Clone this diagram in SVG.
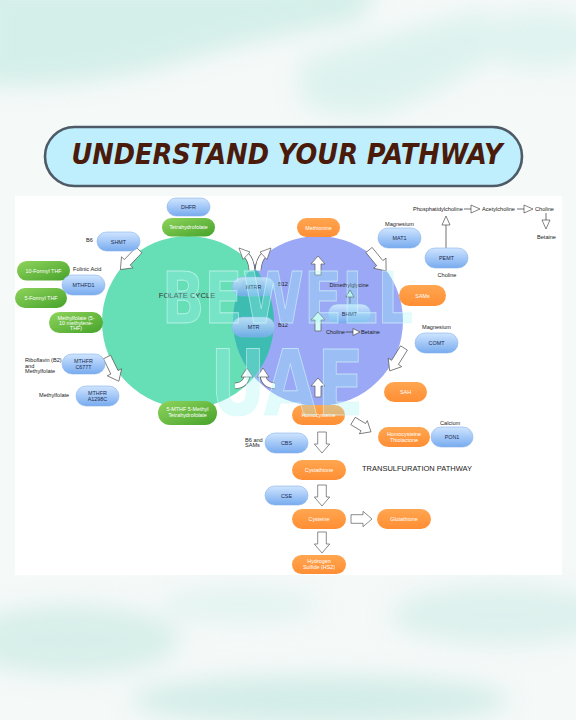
<svg xmlns="http://www.w3.org/2000/svg" xmlns:xlink="http://www.w3.org/1999/xlink" width="576" height="720" viewBox="0 0 576 720">
<defs>
<style>
.lbl{font-family:'Liberation Sans',Arial,sans-serif;font-size:5.6px;fill:#222}
.pt{font-family:'Liberation Sans',Arial,sans-serif;font-size:5.4px;text-anchor:middle}
.pw{fill:#ffffff}
.pb{fill:#1d2b4f}
.blue{fill:url(#gBlue);stroke:#86b1ea;stroke-width:0.6}
.green{fill:url(#gGreen)}
.orange{fill:url(#gOrange)}
.blk{fill:#ffffff;stroke:#5a5a5a;stroke-width:0.7;stroke-linejoin:miter}
.thin{stroke:#333;stroke-width:0.7;fill:none}
.tri{fill:#ffffff;stroke:#333;stroke-width:0.6}
.wm{font-family:'DejaVu Sans',Verdana,sans-serif;font-weight:bold;fill:#9ff1f3;fill-opacity:0.3;stroke:#dcfbfb;stroke-width:1;stroke-opacity:0.6}
</style>
<linearGradient id="gBlue" x1="0" y1="0" x2="0" y2="1"><stop offset="0" stop-color="#cfe5ff"/><stop offset="1" stop-color="#78abef"/></linearGradient>
<linearGradient id="gGreen" x1="0" y1="0" x2="1" y2="1"><stop offset="0" stop-color="#8fd45c"/><stop offset="1" stop-color="#46a22a"/></linearGradient>
<linearGradient id="gOrange" x1="0" y1="0" x2="0" y2="1"><stop offset="0" stop-color="#ffa650"/><stop offset="1" stop-color="#ff8e34"/></linearGradient>
<filter id="blur" x="-50%" y="-50%" width="200%" height="200%"><feGaussianBlur stdDeviation="12"/></filter>
<clipPath id="greenClip"><circle cx="188" cy="322" r="86"/></clipPath>
<path id="bA" d="M0,-4 H17 V-8 L27,0 L17,8 V4 H0 Z"/>
<path id="bV" d="M0,-4.3 H12 V-7.7 L21,0 L12,7.7 V4.3 H0 Z"/>
<path id="bU" d="M0,-3 H11 V-7 L19,0 L11,7 V3 H0 Z"/>
</defs>

<!-- background -->
<rect x="0" y="0" width="576" height="720" fill="#f5f9f8"/>
<g filter="url(#blur)" opacity="0.6">
<path d="M-20,-20 H380 L360,20 Q250,40 150,70 Q60,90 -20,85 Z" fill="#bfe8e0"/>
<path d="M300,60 Q400,30 480,10 L520,40 Q450,90 380,115 Q320,120 300,100 Z" fill="#cdeee8"/>
<ellipse cx="540" cy="40" rx="60" ry="30" fill="#d2efea"/>
<ellipse cx="70" cy="640" rx="110" ry="35" fill="#c4e8e1"/>
<ellipse cx="320" cy="700" rx="190" ry="25" fill="#bde5de"/>
<ellipse cx="500" cy="615" rx="110" ry="30" fill="#cdebe6"/>
<ellipse cx="240" cy="605" rx="80" ry="18" fill="#d8f0ec"/>
</g>

<!-- title -->
<g id="title">
<rect x="45" y="127" width="477" height="59" rx="29.5" fill="#bfeffc" stroke="#4e5b67" stroke-width="2.6"/>
<text x="287" y="164" text-anchor="middle" font-family="'DejaVu Sans','Liberation Sans',sans-serif" font-weight="bold" font-style="italic" font-size="29" fill="#4a1a0b" textLength="431" lengthAdjust="spacingAndGlyphs">UNDERSTAND YOUR PATHWAY</text>
</g>

<!-- panel -->
<rect x="15" y="196" width="547" height="379" fill="#ffffff"/>

<!-- cycles -->
<g id="folate-cycle">
<circle cx="188" cy="322" r="86" fill="#66deb6"/>
</g>
<g id="methylation-cycle">
<circle cx="318" cy="321" r="85" fill="#9aa8f6"/>
<circle cx="318" cy="321" r="85" fill="#3dbcb1" clip-path="url(#greenClip)"/>
</g>
<text x="187" y="298" text-anchor="middle" font-family="'Liberation Sans',Arial,sans-serif" font-size="7.6" fill="#333">FOLATE CYCLE</text>

<!-- connectors -->
<g id="connectors">
<use href="#bA" class="blk" transform="translate(139,250) rotate(133.5)"/>
<use href="#bA" class="blk" transform="translate(107,357) rotate(64)"/>
<use href="#bA" class="blk" transform="translate(369,250) rotate(50.7)"/>
<use href="#bA" class="blk" transform="translate(404,348) rotate(122)"/>
<use href="#bV" class="blk" transform="translate(353,421) rotate(31)"/>
<use href="#bV" class="blk" transform="translate(351,519)"/>
<use href="#bV" class="blk" transform="translate(322,432) rotate(90)"/>
<use href="#bV" class="blk" transform="translate(322,485) rotate(90)"/>
<use href="#bV" class="blk" transform="translate(322,532) rotate(90)"/>
<use href="#bU" class="blk" transform="translate(318,275) rotate(-90)"/>
<use href="#bU" class="blk" transform="translate(318,331) rotate(-90)" style="fill:#d6faf6"/>
<use href="#bU" class="blk" transform="translate(318,397) rotate(-90)"/>
<!-- curved arrows top -->
<path d="M252,270 Q251,259 246,255" stroke="#5a5a5a" stroke-width="6.4" fill="none"/>
<path d="M252,270.5 Q251,259 246,255" stroke="#ffffff" stroke-width="5" fill="none"/>
<polygon points="239,248 250,252 243,259.5" class="blk"/>
<path d="M258,270 Q259,259 264,255" stroke="#5a5a5a" stroke-width="6.4" fill="none"/>
<path d="M258,270.5 Q259,259 264,255" stroke="#ffffff" stroke-width="5" fill="none"/>
<polygon points="271,248 260,252 267,259.5" class="blk"/>
<!-- curved arrows bottom -->
<path d="M235,386 Q246,385 247,376" stroke="#5a5a5a" stroke-width="6.4" fill="none"/>
<path d="M235,386 Q246,385 247,375.5" stroke="#ffffff" stroke-width="5" fill="none"/>
<polygon points="241,377 253,377 247,368" class="blk"/>
<path d="M275,386 Q264,385 263,376" stroke="#5a5a5a" stroke-width="6.4" fill="none"/>
<path d="M275,386 Q264,385 263,375.5" stroke="#ffffff" stroke-width="5" fill="none"/>
<polygon points="257,377 269,377 263,368" class="blk"/>
<!-- thin arrows -->
<line x1="464" y1="209" x2="471" y2="209" class="thin"/>
<polygon points="471,205 471,213 480,209" class="tri"/>
<line x1="517" y1="209" x2="524" y2="209" class="thin"/>
<polygon points="524,205 524,213 533,209" class="tri"/>
<line x1="546" y1="213" x2="546" y2="220" class="thin"/>
<polygon points="542,220 550,220 546,229" class="tri"/>
<line x1="446" y1="248" x2="446" y2="225" class="thin"/>
<polygon points="442,225 450,225 446,216" class="tri"/>
<line x1="345.5" y1="332" x2="353" y2="332" class="thin"/>
<polygon points="353,328.5 353,335.5 360,332" class="tri"/>
<line x1="350" y1="304" x2="350" y2="297" class="thin"/>
<polygon points="346,297 354,297 350,290" class="tri" style="fill:#c4f3ee"/>
</g>

<!-- nodes -->
<g id="DHFR"><rect class="blue" x="167" y="198" width="43" height="18" rx="9"/><text class="pt pb" x="188.5" y="209">DHFR</text></g>
<g id="Tetrahydrofolate"><rect class="green" x="162" y="218" width="53" height="18.5" rx="9.2"/><text class="pt pw" x="188.5" y="229">Tetrahydrofolate</text></g>
<g id="Methionine"><rect class="orange" x="297" y="218" width="43" height="19" rx="9.5"/><text class="pt pw" x="318.5" y="229.5">Methionine</text></g>
<g id="SHMT"><rect class="blue" x="97" y="232" width="43" height="19" rx="9.5"/><text class="pt pb" x="118.5" y="243.5">SHMT</text></g>
<g id="FormylTHF10"><rect class="green" x="17" y="261" width="53" height="19.5" rx="9.7"/><text class="pt pw" x="43.5" y="272.5">10-Formyl THF</text></g>
<g id="MTHFD1"><rect class="blue" x="62" y="275" width="43" height="20" rx="10"/><text class="pt pb" x="83.5" y="287">MTHFD1</text></g>
<g id="FormylTHF5"><rect class="green" x="15" y="288" width="52" height="20" rx="10"/><text class="pt pw" x="41" y="300">5-Formyl THF</text></g>
<g id="Methylfolate"><rect class="green" x="49" y="312" width="54" height="21" rx="10.5"/><text class="pt pw" x="76" y="319.5">Methylfolate (5-</text><text class="pt pw" x="76" y="324.8">10 methylene-</text><text class="pt pw" x="76" y="330">THF)</text></g>
<g id="MTHFR-C677T"><rect class="blue" x="62" y="354" width="43" height="20" rx="10"/><text class="pt pb" x="83.5" y="362.5">MTHFR</text><text class="pt pb" x="83.5" y="368.5">C677T</text></g>
<g id="MTHFR-A1298C"><rect class="blue" x="76" y="386" width="43" height="20" rx="10"/><text class="pt pb" x="97.5" y="394.5">MTHFR</text><text class="pt pb" x="97.5" y="400.5">A1298C</text></g>
<g id="MTHF5"><rect class="green" x="158" y="401" width="59" height="24" rx="12"/><text class="pt pw" x="187.5" y="411">5-MTHF 5-Methyl</text><text class="pt pw" x="187.5" y="417">Tetrahydrofolate</text></g>
<g id="MTRR"><rect class="blue" x="232" y="277" width="43" height="19" rx="9.5" opacity="0.85"/><text class="pt pb" x="253.5" y="288.5">MTRR</text></g>
<g id="MTR"><rect class="blue" x="232" y="317" width="43" height="20" rx="10" opacity="0.85"/><text class="pt pb" x="253.5" y="329">MTR</text></g>
<g id="MAT1"><rect class="blue" x="378" y="228" width="43" height="20" rx="10"/><text class="pt pb" x="399.5" y="240">MAT1</text></g>
<g id="PEMT"><rect class="blue" x="425" y="248" width="43" height="20" rx="10"/><text class="pt pb" x="446.5" y="260">PEMT</text></g>
<g id="SAMs"><rect class="orange" x="399" y="285" width="47" height="21" rx="10.5"/><text class="pt pw" x="422.5" y="297.5">SAMs</text></g>
<g id="BHMT"><rect class="blue" x="328" y="304" width="43" height="19" rx="9.5"/><text class="pt pb" x="349.5" y="315.5">BHMT</text></g>
<g id="COMT"><rect class="blue" x="415" y="333" width="43" height="20" rx="10"/><text class="pt pb" x="436.5" y="345">COMT</text></g>
<g id="SAH"><rect class="orange" x="384" y="382" width="43" height="20" rx="10"/><text class="pt pw" x="405.5" y="394">SAH</text></g>
<g id="Homocysteine"><rect class="orange" x="292" y="405" width="53" height="20" rx="10"/><text class="pt pw" x="318.5" y="417">Homocysteine</text></g>
<g id="HomocysteineThiolactone"><rect class="orange" x="378" y="427" width="52" height="20" rx="10"/><text class="pt pw" x="404" y="435.5">Homocysteine</text><text class="pt pw" x="404" y="441.5">Thiolactone</text></g>
<g id="PON1"><rect class="blue" x="431" y="427" width="42" height="20" rx="10"/><text class="pt pb" x="452" y="439">PON1</text></g>
<g id="CBS"><rect class="blue" x="265" y="433" width="43" height="20" rx="10"/><text class="pt pb" x="286.5" y="445">CBS</text></g>
<g id="Cystathione"><rect class="orange" x="292" y="460" width="54" height="20" rx="10"/><text class="pt pw" x="319" y="472">Cystathione</text></g>
<g id="CSE"><rect class="blue" x="265" y="486" width="43" height="19" rx="9.5"/><text class="pt pb" x="286.5" y="497.5">CSE</text></g>
<g id="Cysteine"><rect class="orange" x="292" y="509" width="54" height="20" rx="10"/><text class="pt pw" x="319" y="521">Cysteine</text></g>
<g id="Glutathione"><rect class="orange" x="377" y="509" width="54" height="20" rx="10"/><text class="pt pw" x="404" y="521">Glutathione</text></g>
<g id="HydrogenSulfide"><rect class="orange" x="292" y="555" width="54" height="19" rx="9.5"/><text class="pt pw" x="319" y="563">Hydrogen</text><text class="pt pw" x="319" y="569">Sulfide (HS2)</text></g>

<!-- free labels -->
<g id="labels">
<text class="lbl" x="86" y="242">B6</text>
<text class="lbl" x="73" y="271">Folinic Acid</text>
<text class="lbl" x="25" y="362">Riboflavin (B2)</text>
<text class="lbl" x="25" y="367.5">and</text>
<text class="lbl" x="25" y="373">Methylfolate</text>
<text class="lbl" x="39" y="397">Methylfolate</text>
<text class="lbl" x="278" y="286">B12</text>
<text class="lbl" x="278" y="327">B12</text>
<text class="lbl" x="329.5" y="287">Dimethylglycine</text>
<text class="lbl" x="326" y="334">Choline</text>
<text class="lbl" x="361" y="334">Betaine</text>
<text class="lbl" x="385" y="225.5">Magnesium</text>
<text class="lbl" x="422" y="328.5">Magnesium</text>
<text class="lbl" x="447" y="276.5" text-anchor="middle">Choline</text>
<text class="lbl" x="413" y="211">Phosphatidylcholine</text>
<text class="lbl" x="482" y="211">Acetylcholine</text>
<text class="lbl" x="535" y="211">Choline</text>
<text class="lbl" x="537" y="238.5">Betaine</text>
<text class="lbl" x="440" y="424.5">Calcium</text>
<text class="lbl" x="245" y="441.5">B6 and</text>
<text class="lbl" x="245" y="447">SAMs</text>
<text x="362" y="471" font-family="'Liberation Sans',Arial,sans-serif" font-size="7.5" fill="#222">TRANSULFURATION PATHWAY</text>
</g>

<!-- watermark -->
<g id="watermark">
<text class="wm" x="162" y="323" font-size="72" textLength="251" lengthAdjust="spacingAndGlyphs">BEWELL</text>
<text class="wm" x="210" y="415" font-size="90" textLength="154" lengthAdjust="spacingAndGlyphs">UAE</text>
</g>
</svg>
